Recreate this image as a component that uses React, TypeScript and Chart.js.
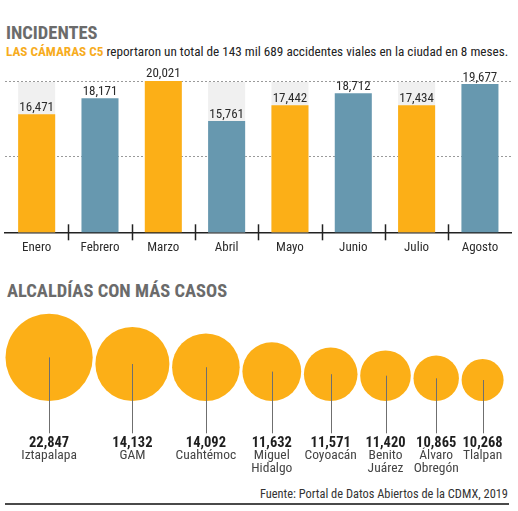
import React, { useEffect, useRef } from "react";
import { Chart, registerables } from "chart.js";

Chart.register(...registerables);

// ---- Data ----
const months = ["Enero", "Febrero", "Marzo", "Abril", "Mayo", "Junio", "Julio", "Agosto"];
const monthlyIncidents = [16471, 18171, 20021, 15761, 17442, 18712, 17434, 19677];

const boroughNames: string[][] = [
  ["Iztapalapa"], ["GAM"], ["Cuahtémoc"], ["Miguel", "Hidalgo"], ["Coyoacán"],
  ["Benito", "Juárez"], ["Álvaro", "Obregón"], ["Tlalpan"],
];
const boroughCases = [22847, 14132, 14092, 11632, 11571, 11420, 10865, 10268];
// bubble radius as drawn in the original graphic
const boroughRadius = [43.6, 37, 33.8, 29.4, 26.8, 25.3, 22.7, 21];

const yTicks = [4000, 12000, 20000];

// ---- Styles ----
const FONT = '"Roboto Condensed", "Roboto", sans-serif';
const ORANGE = "#FCAF17";
const BLUE = "#6798AF";
const TRACK = "#F0F0F0";
const barColors = months.map((_, i) => (i % 2 === 0 ? ORANGE : BLUE));
const trackColors = ["Enero", "Abril", "Mayo", "Julio"];

const fmt = (v: number) => v.toLocaleString("en-US");

function BarChart() {
  const ref = useRef<HTMLCanvasElement>(null);
  useEffect(() => {
    const yMin = yTicks[0];
    const yMax = yTicks[yTicks.length - 1];
    const labelPlugin = {
      id: "barLabels",
      afterDatasetsDraw(chart: any) {
        const ctx = chart.ctx;
        const meta = chart.getDatasetMeta(0);
        ctx.save();
        ctx.font = `13px ${FONT}`;
        ctx.fillStyle = "#2b2b2b";
        ctx.textAlign = "center";
        ctx.textBaseline = "alphabetic";
        meta.data.forEach((el: any, i: number) => {
          ctx.fillText(fmt(monthlyIncidents[i]), el.x, el.y - 3.5);
        });
        ctx.restore();
      },
      afterDraw(chart: any) {
        const ctx = chart.ctx;
        const xs = chart.scales.x;
        const yb = chart.chartArea.bottom;
        ctx.save();
        ctx.strokeStyle = "#222";
        ctx.lineWidth = 1.5;
        for (let i = 1; i < months.length; i++) {
          const x = Math.round((xs.getPixelForValue(i - 1) + xs.getPixelForValue(i)) / 2) + 0.5;
          ctx.beginPath();
          ctx.moveTo(x, yb - 8);
          ctx.lineTo(x, yb + 8);
          ctx.stroke();
        }
        ctx.restore();
      },
    };
    const chart = new Chart(ref.current!, {
      type: "bar",
      data: {
        labels: months,
        datasets: [
          {
            data: monthlyIncidents,
            backgroundColor: barColors,
            borderWidth: 0,
            grouped: false,
            barPercentage: 0.585,
            categoryPercentage: 1,
          } as any,
          {
            data: months.map(() => yMax - 100),
            backgroundColor: months.map((m) => (trackColors.includes(m) ? TRACK : "rgba(0,0,0,0)")),
            borderWidth: 0,
            grouped: false,
            barPercentage: 0.585,
            categoryPercentage: 1,
          } as any,
        ],
      },
      options: {
        responsive: false,
        animation: false,
        layout: { padding: { left: 5, right: 6.4, top: 21, bottom: 0 } },
        plugins: { legend: { display: false }, tooltip: { enabled: false } },
        scales: {
          x: {
            grid: { display: true, drawOnChartArea: false, drawTicks: true, tickLength: 8, color: "rgba(0,0,0,0)" },
            border: { display: true, color: "#222", width: 1.5 },
            ticks: { font: { family: FONT, size: 13 }, color: "#2b2b2b", padding: 0, maxRotation: 0 },
            afterFit: (s: any) => { s.height = 27.7; },
          },
          y: {
            min: yMin,
            max: yMax,
            afterBuildTicks: (s: any) => { s.ticks = yTicks.map((v) => ({ value: v })); },
            ticks: { display: false },
            grid: {
              drawTicks: false,
              color: (c: any) => (c.index === 0 ? "rgba(0,0,0,0)" : "#9a9a9a"),
              lineWidth: 1,
            },
            border: { display: false, dash: [2, 2] },
            afterFit: (s: any) => { s.width = 0; },
          },
        },
      },
      plugins: [labelPlugin],
    });
    return () => chart.destroy();
  }, []);
  return <canvas ref={ref} width={518} height={200} style={{ position: "absolute", left: 0, top: 60 }} />;
}

function BubbleChart() {
  const ref = useRef<HTMLCanvasElement>(null);
  useEffect(() => {
    const gap = 2.7;
    let left = 5.5;
    const points = boroughRadius.map((r, i) => {
      const p = { x: left + r, y: r, r, v: boroughCases[i] };
      left += 2 * r + gap;
      return p;
    });
    const labelPlugin = {
      id: "bubbleLabels",
      afterDatasetsDraw(chart: any) {
        const ctx = chart.ctx;
        const meta = chart.getDatasetMeta(0);
        ctx.save();
        meta.data.forEach((el: any, i: number) => {
          const x = Math.round(el.x) + 0.5;
          ctx.strokeStyle = "#6f6f6f";
          ctx.lineWidth = 1;
          ctx.beginPath();
          ctx.moveTo(x, el.y);
          ctx.lineTo(x, 133.3);
          ctx.stroke();
          ctx.textAlign = "center";
          ctx.textBaseline = "alphabetic";
          ctx.fillStyle = "#1e1e1e";
          ctx.font = `bold 14.5px ${FONT}`;
          ctx.fillText(fmt(boroughCases[i]), el.x, 146.7);
          ctx.fillStyle = "#444";
          ctx.font = `13.5px ${FONT}`;
          boroughNames[i].forEach((line, j) => ctx.fillText(line, el.x, 159.4 + j * 12.5));
        });
        ctx.restore();
      },
    };
    const chart = new Chart(ref.current!, {
      type: "bubble",
      data: {
        datasets: [
          {
            data: points,
            backgroundColor: ORANGE,
            borderWidth: 0,
            hoverRadius: 0,
            clip: false,
          } as any,
        ],
      },
      options: {
        responsive: false,
        animation: false,
        layout: { padding: 0, autoPadding: false },
        plugins: { legend: { display: false }, tooltip: { enabled: false } },
        scales: {
          x: { type: "linear", display: false, min: 0, max: 518 },
          y: { type: "linear", display: false, min: -79, max: 101 },
        },
      },
      plugins: [labelPlugin],
    });
    return () => chart.destroy();
  }, []);
  return <canvas ref={ref} width={518} height={180} style={{ position: "absolute", left: 0, top: 300 }} />;
}

export default function App() {
  const title: React.CSSProperties = {
    position: "absolute",
    left: 6,
    fontFamily: FONT,
    fontWeight: 700,
    fontSize: 18.5,
    lineHeight: 1,
    color: "#6b6b6b",
    whiteSpace: "nowrap",
  };
  return (
    <div style={{ position: "absolute", left: 0, top: 0, width: 518, height: 511, background: "#fff", overflow: "hidden" }}>
      <div style={{ ...title, top: 24 }}>INCIDENTES</div>
      <div
        style={{
          position: "absolute",
          left: 6,
          top: 45.3,
          fontFamily: FONT,
          fontSize: 13.2,
          lineHeight: 1,
          color: "#222",
          whiteSpace: "nowrap",
        }}
      >
        <span style={{ color: "#F7AC1E", fontWeight: 700 }}>LAS CÁMARAS C5</span> reportaron un total de 143 mil 689 accidentes viales en la ciudad en 8 meses.
      </div>
      <BarChart />
      <div style={{ ...title, left: 7, top: 281.8 }}>ALCALDÍAS CON MÁS CASOS</div>
      <BubbleChart />
      <div
        style={{
          position: "absolute",
          right: 10,
          top: 488,
          fontFamily: FONT,
          fontSize: 12.4,
          lineHeight: 1,
          color: "#333",
          whiteSpace: "nowrap",
        }}
      >
        Fuente: Portal de Datos Abiertos de la CDMX, 2019
      </div>
      <div style={{ position: "absolute", left: 5, top: 502.5, width: 504, height: 2, background: "#4a4a4a" }} />
    </div>
  );
}
